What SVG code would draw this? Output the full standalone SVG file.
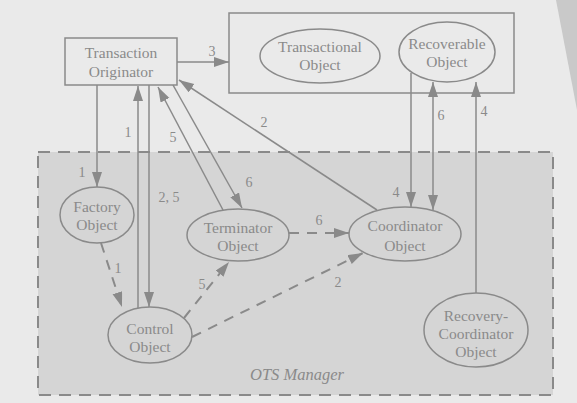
<svg xmlns="http://www.w3.org/2000/svg" width="577" height="403" viewBox="0 0 577 403">
<style>
  .bg{fill:#eaeaea}
  .mgr{fill:#d5d5d5;stroke:#8a8a8a;stroke-width:2;stroke-dasharray:12,8}
  .shape{fill:none;stroke:#8a8a8a;stroke-width:1.5}
  text{font-family:'Liberation Serif','Times New Roman','DejaVu Serif',serif;fill:#8a8a8a}
  .txt{font-size:15.5px;text-anchor:middle}
  .lbl{font-size:14px;text-anchor:middle}
  .ots{font-size:16.5px;font-style:italic}
  .c{fill:none;stroke:#8a8a8a;stroke-width:1.5}
  .d{fill:none;stroke:#8a8a8a;stroke-width:2;stroke-dasharray:10,8}
</style>
<defs>
  <marker id="ah" markerUnits="userSpaceOnUse" markerWidth="16" markerHeight="11" refX="15" refY="5" orient="auto-start-reverse">
    <path d="M0,0 L15,5 L0,10 z" fill="#8a8a8a"/>
  </marker>
</defs>
<rect class="bg" x="0" y="0" width="577" height="403"/>
<polygon points="556,0 577,0 577,110" fill="#c9c9c9"/>

<g id="ots-manager">
  <rect class="mgr" x="38" y="152" width="515" height="243"/>
  <text class="ots" x="250" y="380" font-family="Liberation Serif, DejaVu Serif, serif">OTS Manager</text>
</g>

<g id="transaction-originator">
  <rect class="shape" x="65" y="38" width="112" height="47"/>
  <text class="txt" x="121" y="58" font-family="Liberation Serif, DejaVu Serif, serif">Transaction</text>
  <text class="txt" x="121" y="77" font-family="Liberation Serif, DejaVu Serif, serif">Originator</text>
</g>

<g id="object-container">
  <rect class="shape" x="229" y="13" width="285" height="80"/>
</g>

<g id="transactional-object">
  <ellipse class="shape" cx="320" cy="56" rx="60" ry="27"/>
  <text class="txt" x="320" y="52" font-family="Liberation Serif, DejaVu Serif, serif">Transactional</text>
  <text class="txt" x="320" y="70" font-family="Liberation Serif, DejaVu Serif, serif">Object</text>
</g>

<g id="recoverable-object">
  <ellipse class="shape" cx="447" cy="52" rx="48" ry="30"/>
  <text class="txt" x="447" y="49" font-family="Liberation Serif, DejaVu Serif, serif">Recoverable</text>
  <text class="txt" x="447" y="67" font-family="Liberation Serif, DejaVu Serif, serif">Object</text>
</g>

<g id="factory-object">
  <ellipse class="shape" cx="97" cy="215" rx="37" ry="28"/>
  <text class="txt" x="97" y="212" font-family="Liberation Serif, DejaVu Serif, serif">Factory</text>
  <text class="txt" x="97" y="230" font-family="Liberation Serif, DejaVu Serif, serif">Object</text>
</g>

<g id="terminator-object">
  <ellipse class="shape" cx="238" cy="235" rx="51" ry="26"/>
  <text class="txt" x="238" y="233" font-family="Liberation Serif, DejaVu Serif, serif">Terminator</text>
  <text class="txt" x="238" y="251" font-family="Liberation Serif, DejaVu Serif, serif">Object</text>
</g>

<g id="coordinator-object">
  <ellipse class="shape" cx="405" cy="234" rx="56" ry="27"/>
  <text class="txt" x="405" y="231" font-family="Liberation Serif, DejaVu Serif, serif">Coordinator</text>
  <text class="txt" x="405" y="251" font-family="Liberation Serif, DejaVu Serif, serif">Object</text>
</g>

<g id="control-object">
  <ellipse class="shape" cx="150" cy="335" rx="42" ry="28"/>
  <text class="txt" x="150" y="334" font-family="Liberation Serif, DejaVu Serif, serif">Control</text>
  <text class="txt" x="150" y="352" font-family="Liberation Serif, DejaVu Serif, serif">Object</text>
</g>

<g id="recovery-coordinator-object">
  <ellipse class="shape" cx="476" cy="330" rx="52" ry="37"/>
  <text class="txt" x="476" y="321" font-family="Liberation Serif, DejaVu Serif, serif">Recovery-</text>
  <text class="txt" x="476" y="339" font-family="Liberation Serif, DejaVu Serif, serif">Coordinator</text>
  <text class="txt" x="476" y="357" font-family="Liberation Serif, DejaVu Serif, serif">Object</text>
</g>

<g id="connectors" font-family="Liberation Serif, DejaVu Serif, serif">
  <line class="c" x1="177" y1="62" x2="229" y2="62" marker-end="url(#ah)"/>
  <text class="lbl" x="212" y="56">3</text>

  <line class="c" x1="97" y1="85" x2="97" y2="187" marker-end="url(#ah)"/>
  <text class="lbl" x="82" y="177">1</text>

  <line class="c" x1="138" y1="308" x2="138" y2="86" marker-end="url(#ah)"/>
  <text class="lbl" x="128" y="137">1</text>

  <line class="c" x1="149" y1="85" x2="149" y2="307" marker-end="url(#ah)"/>
  <text class="lbl" x="169" y="202">2, 5</text>

  <line class="c" x1="223" y1="210" x2="158" y2="87" marker-end="url(#ah)"/>
  <text class="lbl" x="173" y="142">5</text>

  <line class="c" x1="173" y1="85" x2="242" y2="208" marker-end="url(#ah)"/>
  <text class="lbl" x="249" y="187">6</text>

  <line class="c" x1="377" y1="210" x2="179" y2="80" marker-end="url(#ah)"/>
  <text class="lbl" x="264" y="127">2</text>

  <line class="c" x1="411" y1="73" x2="411" y2="207" marker-end="url(#ah)"/>
  <text class="lbl" x="396" y="197">4</text>

  <line class="c" x1="433" y1="82" x2="433" y2="210" marker-start="url(#ah)" marker-end="url(#ah)"/>
  <text class="lbl" x="441" y="120">6</text>

  <line class="c" x1="476" y1="293" x2="476" y2="82" marker-end="url(#ah)"/>
  <text class="lbl" x="484" y="116">4</text>

  <line class="d" x1="101" y1="243" x2="122" y2="307" marker-end="url(#ah)"/>
  <text class="lbl" x="118" y="273">1</text>

  <line class="d" x1="289" y1="233" x2="349" y2="233" marker-end="url(#ah)"/>
  <text class="lbl" x="319" y="225">6</text>

  <line class="d" x1="184" y1="318" x2="229" y2="262" marker-end="url(#ah)"/>
  <text class="lbl" x="202" y="289">5</text>

  <line class="d" x1="192" y1="337" x2="363" y2="253" marker-end="url(#ah)"/>
  <text class="lbl" x="338" y="287">2</text>
</g>
</svg>
